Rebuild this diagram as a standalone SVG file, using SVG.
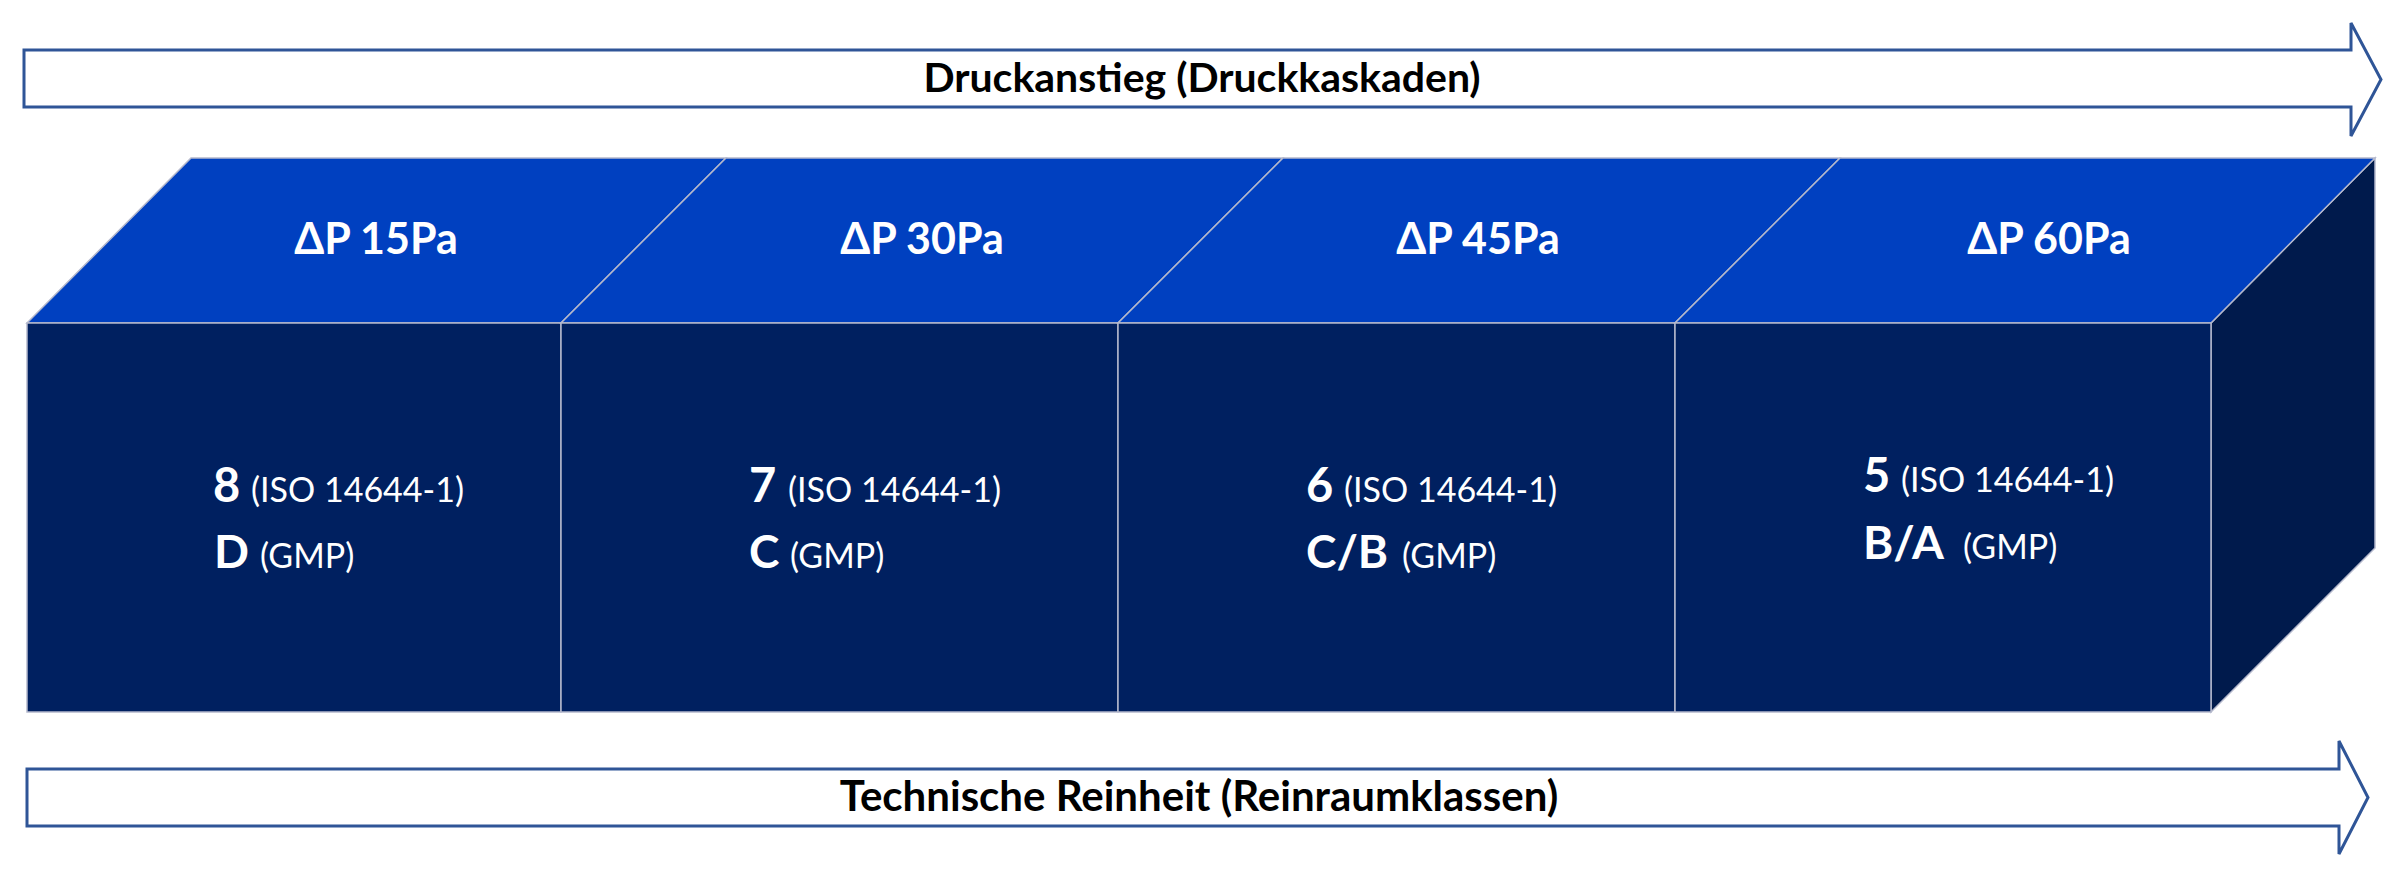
<svg xmlns="http://www.w3.org/2000/svg" width="2401" height="878" viewBox="0 0 2401 878">
  <style>
    .arrow { fill: #FFFFFF; stroke: #2F5597; stroke-width: 3; stroke-linejoin: miter; }
    .top { fill: #0040C0; stroke: #B4B8CC; stroke-width: 1.5; }
    .front { fill: #002060; stroke: #B4B8CC; stroke-width: 1.5; }
    .side { fill: #001A4C; stroke: #B4B8CC; stroke-width: 1.5; }
    .atext { font-family: Lato, "Open Sans", "Liberation Sans", sans-serif; font-weight: 700; fill: #000000; text-anchor: middle; }
    .dp { font-family: Lato, "Open Sans", "Liberation Sans", sans-serif; font-weight: 700; font-size: 43px; fill: #FFFFFF; text-anchor: middle; }
    .num { font-family: Lato, "Open Sans", "Liberation Sans", sans-serif; font-weight: 700; font-size: 47px; fill: #FFFFFF; }
    .cls { font-family: Lato, "Open Sans", "Liberation Sans", sans-serif; font-weight: 700; font-size: 46px; fill: #FFFFFF; }
    .std { font-family: Lato, "Open Sans", "Liberation Sans", sans-serif; font-weight: 400; font-size: 34px; fill: #FFFFFF; }
  </style>

  <g id="arrow-druckanstieg">
    <polygon class="arrow" points="24,50 2351,50 2351,23 2381,79.5 2351,136 2351,107 24,107"/>
    <text class="atext" x="1202" y="92" font-size="41">Druckanstieg (Druckkaskaden)</text>
  </g>

  <g id="arrow-reinheit">
    <polygon class="arrow" points="27,769 2339,769 2339,741 2368,797.5 2339,854 2339,826 27,826"/>
    <text class="atext" x="1199" y="811" font-size="42">Technische Reinheit (Reinraumklassen)</text>
  </g>

  <g id="side-face">
    <polygon class="side" points="2211,323 2375,158 2375,548 2211,712"/>
  </g>

  <g id="room-8-D">
    <polygon class="top" points="27,323 191,158 726,158 561,323"/>
    <rect class="front" x="27" y="323" width="534" height="389"/>
    <text class="dp" x="376" y="254">ΔP 15Pa</text>
    <text class="num" x="213" y="502">8</text>
    <text class="std" x="251" y="502">(ISO 14644-1)</text>
    <text class="cls" x="214" y="568">D</text>
    <text class="std" x="260" y="568">(GMP)</text>
  </g>

  <g id="room-7-C">
    <polygon class="top" points="561,323 726,158 1283,158 1118,323"/>
    <rect class="front" x="561" y="323" width="557" height="389"/>
    <text class="dp" x="922" y="254">ΔP 30Pa</text>
    <text class="num" x="749" y="502">7</text>
    <text class="std" x="788" y="502">(ISO 14644-1)</text>
    <text class="cls" x="749" y="568">C</text>
    <text class="std" x="790" y="568">(GMP)</text>
  </g>

  <g id="room-6-CB">
    <polygon class="top" points="1118,323 1283,158 1840,158 1675,323"/>
    <rect class="front" x="1118" y="323" width="557" height="389"/>
    <text class="dp" x="1478" y="254">ΔP 45Pa</text>
    <text class="num" x="1306" y="502">6</text>
    <text class="std" x="1344" y="502">(ISO 14644-1)</text>
    <text class="cls" x="1306" y="568">C/B</text>
    <text class="std" x="1402" y="568">(GMP)</text>
  </g>

  <g id="room-5-BA">
    <polygon class="top" points="1675,323 1840,158 2375,158 2211,323"/>
    <rect class="front" x="1675" y="323" width="536" height="389"/>
    <text class="dp" x="2049" y="254">ΔP 60Pa</text>
    <text class="num" x="1863" y="492">5</text>
    <text class="std" x="1901" y="492">(ISO 14644-1)</text>
    <text class="cls" x="1863" y="559">B/A</text>
    <text class="std" x="1963" y="559">(GMP)</text>
  </g>

  <g id="connectors"></g>
</svg>
